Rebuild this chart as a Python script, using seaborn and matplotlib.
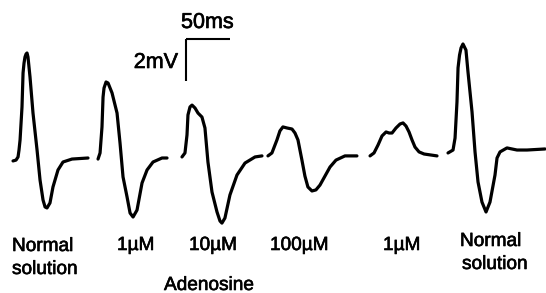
import numpy as np
import pandas as pd
import matplotlib
matplotlib.use("Agg")
import matplotlib.pyplot as plt
import matplotlib.patheffects as pe
import seaborn as sns

# ---- data: six extracellular waveforms (time in ms from trace start, voltage in mV) ----
condition_labels = ["Normal\nsolution", "1µM", "10µM", "100µM", "1µM", "Normal\nsolution"]
group_label = "Adenosine"

t_normal_a = [0, 3.4, 5.7, 6.8, 8.0, 10.2, 11.4, 12.5, 13.6, 14.8, 15.9, 17.0, 19.3, 22.7, 27.3,
              30.7, 34.1, 36.4, 38.6, 42.0, 45.4, 51.1, 56.8, 67.0, 85.2]
v_normal_a = [-0.14, -0.10, 0.05, 0.38, 0.86, 2.43, 4.05, 4.52, 4.81, 4.95, 5.00, 4.81, 3.86, 2.14, 0.38,
              -1.05, -2.00, -2.33, -2.38, -2.14, -1.38, -0.57, -0.19, -0.05, 0.0]

t_1uM_a = [0, 2.3, 4.5, 5.7, 6.8, 9.1, 11.4, 15.9, 21.6, 25.0, 28.4, 33.0, 36.4, 39.8,
           44.3, 50.0, 55.7, 62.5, 72.7, 78.4]
v_1uM_a = [-0.05, 0.24, 1.48, 2.90, 3.33, 3.62, 3.57, 3.10, 2.14, 0.71, -0.90, -1.86, -2.62, -2.81,
           -2.48, -1.19, -0.57, -0.19, 0.0, 0.0]

t_10uM = [0, 3.4, 5.7, 6.8, 9.1, 11.4, 14.8, 18.2, 22.7, 26.1, 29.5, 34.1, 39.8, 43.2,
          45.4, 48.8, 54.5, 62.5, 71.6, 83.0, 90.9]
v_10uM = [0.05, 0.24, 1.10, 2.05, 2.43, 2.52, 2.38, 2.14, 1.95, 1.43, -0.19, -1.62, -2.57, -3.00,
          -3.10, -2.86, -1.76, -0.81, -0.24, 0.05, 0.10]

t_100uM = [0, 4.5, 10.2, 13.6, 17.0, 21.6, 27.3, 30.7, 34.1, 38.6, 42.0, 45.4, 50.0, 54.5,
           59.1, 64.8, 70.5, 77.3, 87.5, 101.1]
v_100uM = [0.10, 0.24, 0.86, 1.29, 1.48, 1.43, 1.38, 1.19, 0.86, -0.10, -0.86, -1.38, -1.57, -1.52,
           -1.29, -0.86, -0.43, -0.10, 0.10, 0.10]

t_1uM_b = [0, 4.5, 9.1, 13.6, 18.2, 21.6, 25.0, 29.5, 34.1, 37.5, 40.9, 44.3, 47.7, 51.1,
           55.7, 61.4, 76.1]
v_1uM_b = [0.10, 0.24, 0.62, 1.05, 1.24, 1.19, 1.19, 1.43, 1.62, 1.67, 1.52, 1.24, 0.86, 0.52,
           0.29, 0.19, 0.10]

t_normal_b = [0, 5.7, 8.0, 10.2, 11.4, 13.1, 14.8, 17.0, 20.4, 22.7, 27.3, 30.7, 34.1, 38.6,
              43.2, 47.7, 53.4, 55.7, 59.1, 67.0, 72.7, 78.4, 89.8, 110.2]
v_normal_b = [0.24, 0.38, 0.95, 2.67, 4.29, 4.90, 5.24, 5.43, 5.14, 4.10, 2.19, 0.29, -1.14, -2.10,
              -2.57, -2.10, -0.81, 0.0, 0.29, 0.48, 0.43, 0.38, 0.38, 0.43]

scale_ms = 50
scale_mV = 2

# ---- layout (positions) ----
trace_starts_ms = [14.8, 111.4, 206.8, 304.5, 420.5, 509.1]
PX_PER_MS = 0.88
PX_PER_MV = 21.0
BASE_PX = 158.0
W, H = 546, 293

def px(x, y):
    return x / PX_PER_MS, (BASE_PX - y) / PX_PER_MV

traces = [(t_normal_a, v_normal_a), (t_1uM_a, v_1uM_a), (t_10uM, v_10uM),
          (t_100uM, v_100uM), (t_1uM_b, v_1uM_b), (t_normal_b, v_normal_b)]
frames = []
for i, ((t, v), s) in enumerate(zip(traces, trace_starts_ms)):
    frames.append(pd.DataFrame({"time": np.array(t) + s, "mV": v, "trace": i}))
df = pd.concat(frames, ignore_index=True)

sns.set_style("white")
plt.rcParams['font.family'] = ['Liberation Sans', 'DejaVu Sans']

fig = plt.figure(figsize=(W / 100, H / 100), dpi=100)
ax = fig.add_axes([0, 0, 1, 1])
sns.lineplot(data=df, x="time", y="mV", units="trace", estimator=None, sort=False,
             color="black", linewidth=2.3, ax=ax, legend=False,
             solid_capstyle="round", solid_joinstyle="round")
ax.set_xlim(0, W / PX_PER_MS)
ax.set_ylim((BASE_PX - H) / PX_PER_MV, BASE_PX / PX_PER_MV)
ax.axis("off")

bold = [pe.withStroke(linewidth=0.45, foreground="black")]

# scale bar
cx, cy = px(186, 39)
ax.plot([cx, cx + scale_ms], [cy, cy], color="black", lw=1.5, solid_capstyle="butt")
ax.plot([cx, cx], [cy, cy - scale_mV], color="black", lw=1.5, solid_capstyle="butt")
ax.text(*px(181, 28), f"{scale_ms}ms", fontsize=15.5, ha="left", va="baseline",
        color="black", path_effects=bold)
ax.text(*px(178, 68), f"{scale_mV}mV", fontsize=15.5, ha="right", va="baseline",
        color="black", path_effects=bold)

# condition labels
label_pos = [(12, 251), (117, 250), (189, 250), (270, 250), (383, 250), (460, 246)]
fs = 13.7
for lab, (x, y) in zip(condition_labels, label_pos):
    lines = lab.split("\n")
    for k, line in enumerate(lines):
        ax.text(*px(x + (2 * k if x > 400 else 0), y + 23 * k), line, fontsize=fs,
                ha="left", va="baseline", color="black", path_effects=bold)
ax.text(*px(164, 290), group_label, fontsize=fs, ha="left", va="baseline",
        color="black", path_effects=bold)

fig.savefig("out.png", dpi=100)
